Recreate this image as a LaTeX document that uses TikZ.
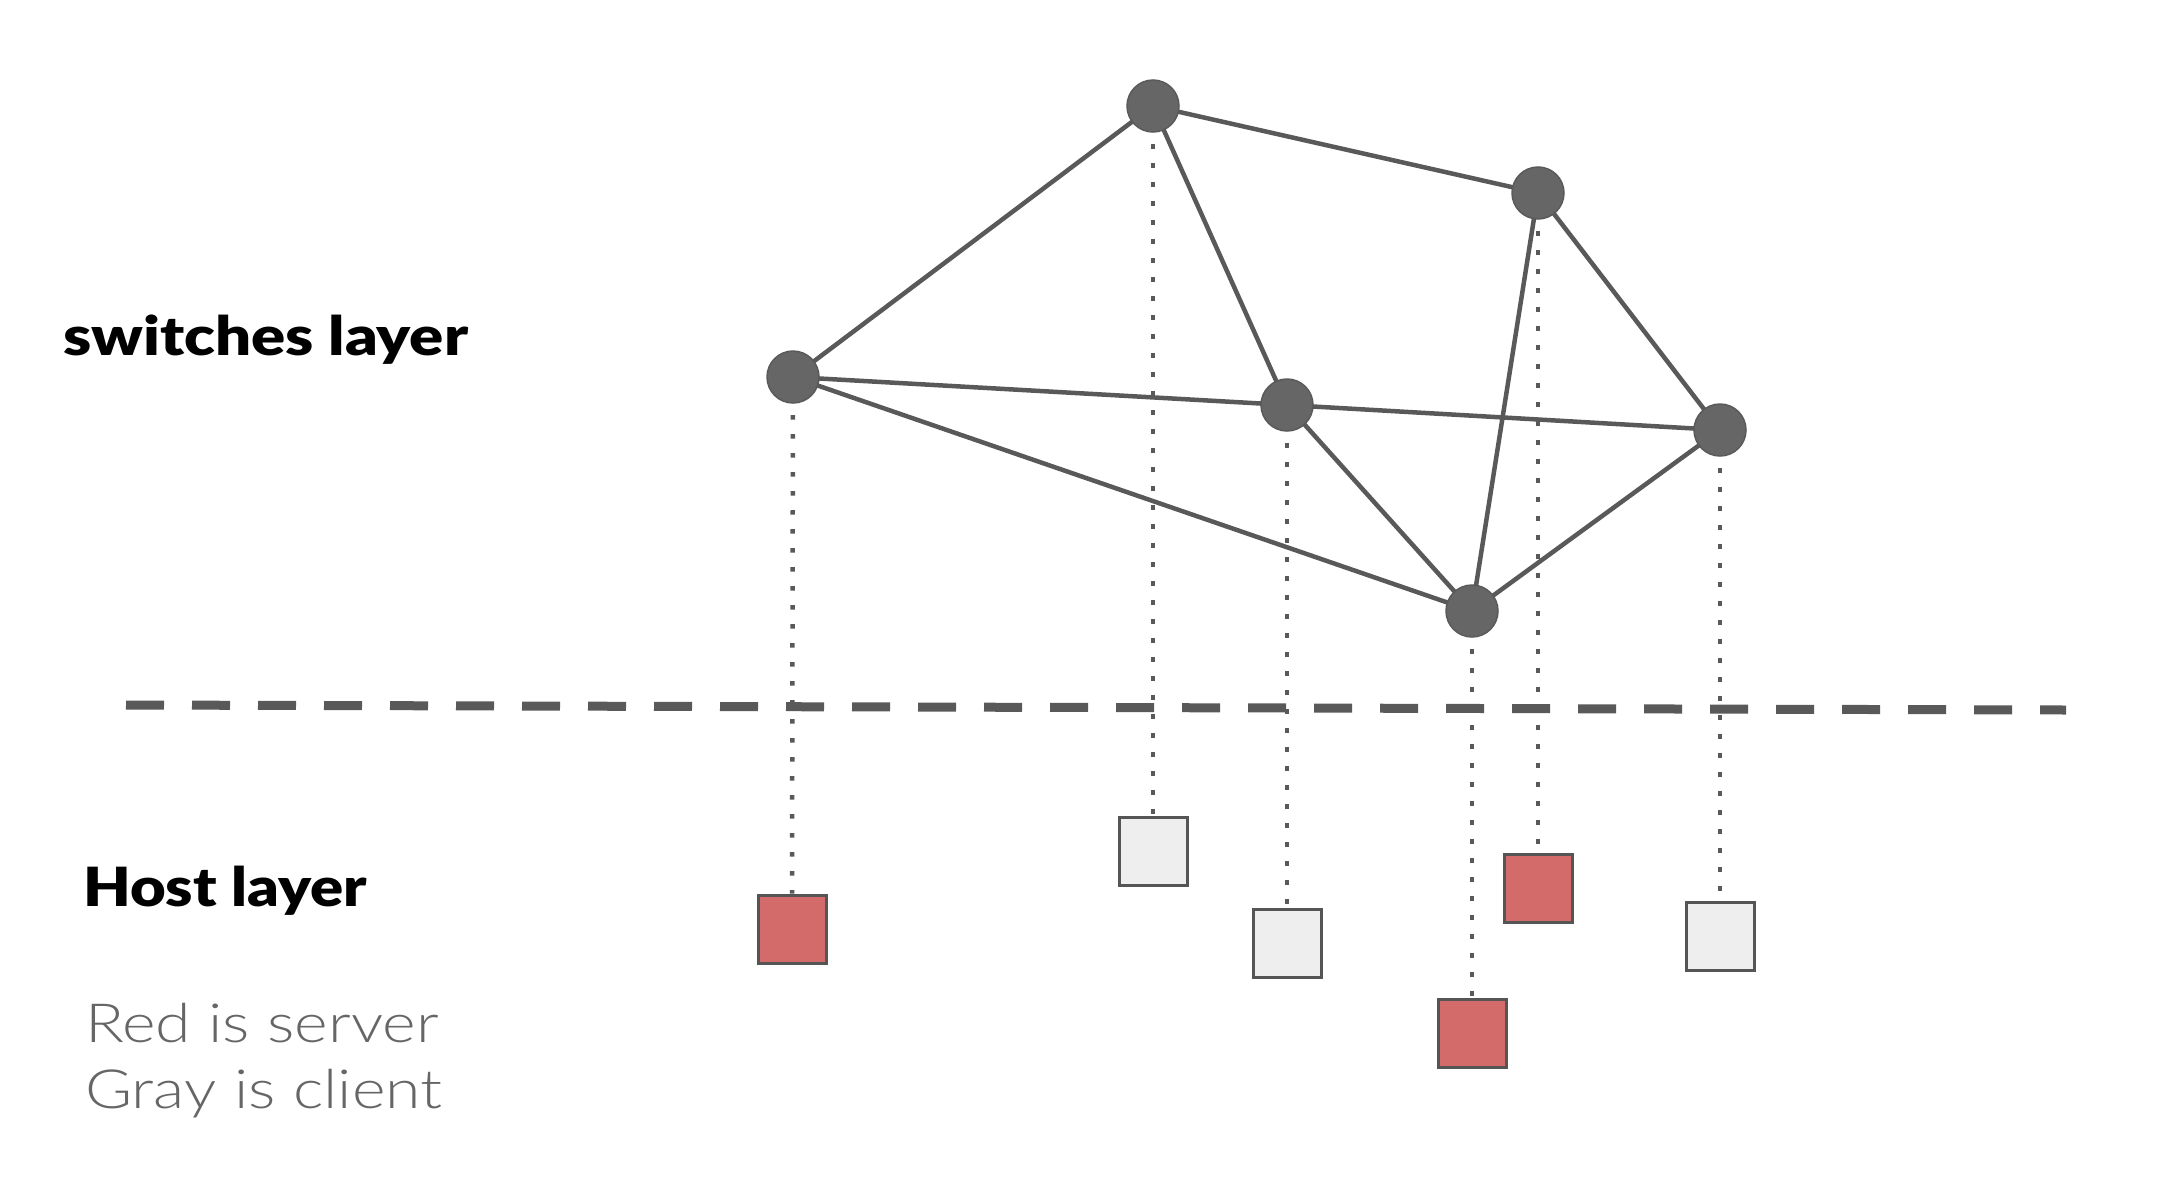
\documentclass[tikz,border=0pt]{standalone}
\usepackage{fontspec}
\setmainfont{Lato}
\newfontfamily\lightfont{Lato Light}
\newfontfamily\blackfont{Lato Black}
\usetikzlibrary{backgrounds}
\definecolor{edgegray}{HTML}{595959}
\definecolor{nodegray}{HTML}{666666}
\definecolor{nodeborder}{HTML}{5A5A5A}
\definecolor{boxborder}{HTML}{555555}
\definecolor{serverred}{HTML}{D26B69}
\definecolor{clientgray}{HTML}{EEEEEE}
\definecolor{notegray}{HTML}{666666}
\newcommand{\wideheading}[2]{\scalebox{#1}[1]{#2}}
\newcommand{\widenote}[1]{\scalebox{1.19}[1]{#1}}
\begin{document}
\begin{tikzpicture}[x=1pt,y=-1pt,
  switchnode/.style={circle, fill=nodegray, draw=nodeborder, line width=1.5pt, minimum size=52pt, inner sep=0pt},
  hostbox/.style={rectangle, draw=boxborder, line width=3pt, minimum size=68pt, inner sep=0pt},
  server/.style={hostbox, fill=serverred},
  client/.style={hostbox, fill=clientgray},
  link/.style={draw=edgegray, line width=4.5pt},
  drop/.style={draw=edgegray, line width=4.5pt, dash pattern=on 4.5pt off 14.5pt},
  separator/.style={draw=edgegray, line width=9pt, dash pattern=on 38pt off 28pt},
  heading/.style={anchor=base west, inner sep=0pt, font=\fontsize{54}{64}\selectfont\blackfont},
  note/.style={anchor=base west, inner sep=0pt, text=notegray, font=\fontsize{54}{64}\selectfont\lightfont}]
\useasboundingbox (0,0) rectangle (2174,1202);

% switches
\node[switchnode] (A) at (1153,106) {};
\node[switchnode] (B) at (1538,193) {};
\node[switchnode] (C) at (793,377) {};
\node[switchnode] (D) at (1287,405) {};
\node[switchnode] (E) at (1720,430) {};
\node[switchnode] (F) at (1472,611) {};

% hosts
\node[server] (hC) at (792,929) {};
\node[client] (hA) at (1153,851) {};
\node[client] (hD) at (1287,943) {};
\node[server] (hF) at (1472,1033) {};
\node[server] (hB) at (1538,888) {};
\node[client] (hE) at (1720,936) {};

\coordinate (sepL) at (126,705);
\coordinate (sepR) at (2066,710);

\begin{pgfonlayer}{background}
  \draw[separator] (sepL) -- (sepR);
  \draw[drop] (A.center) -- (hA.north);
  \draw[drop] (B.center) -- (hB.north);
  \draw[drop] (C.center) -- (hC.north);
  \draw[drop] (D.center) -- (hD.north);
  \draw[drop] (E.center) -- (hE.north);
  \draw[drop] (F.center) -- (hF.north);
  \draw[link] (A.center) -- (C.center);
  \draw[link] (A.center) -- (B.center);
  \draw[link] (A.center) -- (D.center);
  \draw[link] (B.center) -- (F.center);
  \draw[link] (B.center) -- (E.center);
  \draw[link] (C.center) -- (D.center);
  \draw[link] (D.center) -- (E.center);
  \draw[link] (C.center) -- (F.center);
  \draw[link] (D.center) -- (F.center);
  \draw[link] (F.center) -- (E.center);
\end{pgfonlayer}

% labels
\node[heading] (swl) at (63,355) {\wideheading{1.175}{switches layer}};
\node[heading] (hl) at (83,906) {\wideheading{1.14}{Host layer}};
\node[note] (n1) at (85,1042) {\widenote{Red is server}};
\node[note] (n2) at (85,1108) {\widenote{Gray is client}};
\end{tikzpicture}
\end{document}
